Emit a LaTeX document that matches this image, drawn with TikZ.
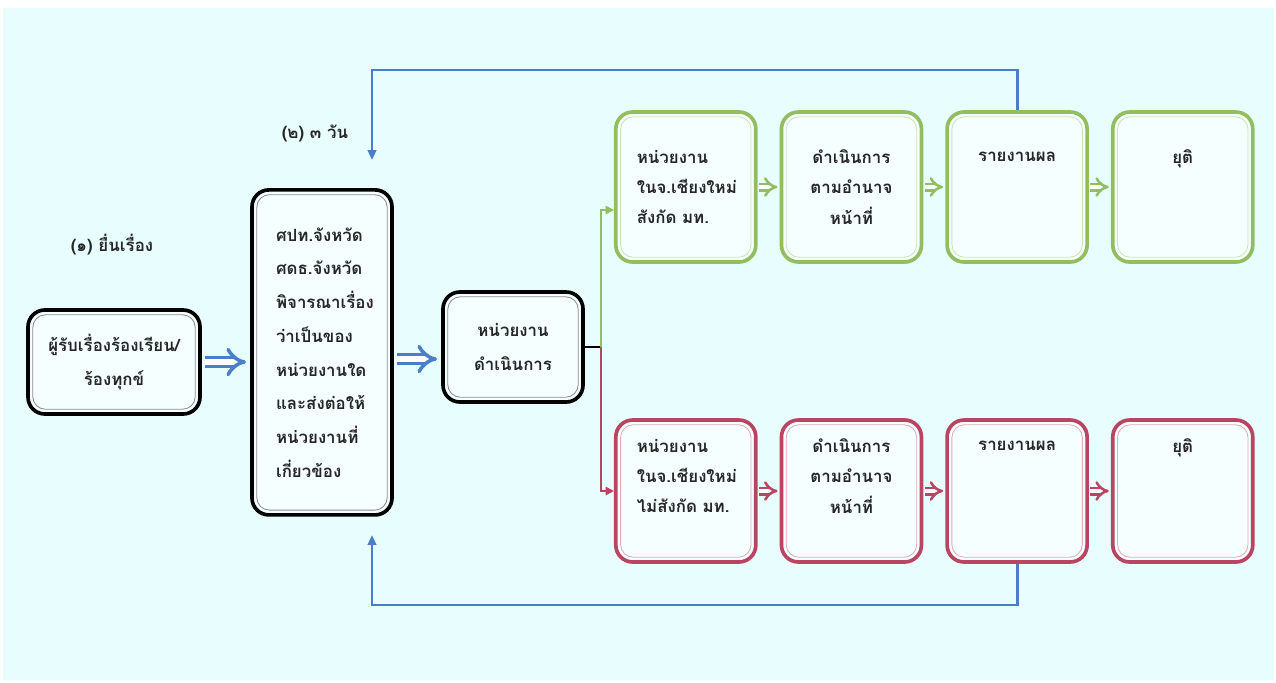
\documentclass[tikz,border=0pt]{standalone}
\usepackage{fontspec}
\newfontfamily\thaifont[Script=Thai]{Loma}
\usetikzlibrary{positioning,arrows.meta}

\definecolor{bgcyan}{RGB}{232,254,254}
\definecolor{arrowblue}{RGB}{74,126,200}
\definecolor{rowgreen}{RGB}{146,190,96}
\definecolor{rowred}{RGB}{184,70,98}

\tikzset{
  framebox/.style={
    rounded corners=12pt,
    draw=#1,
    line width=2.6pt,
    fill=white!55!bgcyan,
    text=black!85,
    font=\thaifont\bfseries\fontsize{12}{24}\selectfont,
    align=center,
    path picture={
      \draw[#1!45, line width=0.6pt, rounded corners=9pt]
        ([shift={(3.4pt,3.4pt)}]path picture bounding box.south west) rectangle
        ([shift={(-3.4pt,-3.4pt)}]path picture bounding box.north east);
    }
  },
  rowbox/.style={minimum width=3.5cm, text width=2.6cm,
    font=\thaifont\bfseries\fontsize{12}{21.5}\selectfont},
  labeltext/.style={text=black!85, font=\thaifont\bfseries\fontsize{12}{16}\selectfont},
  hollow/.style={draw=#1, line width=2.5pt, double=white, double distance=4.2pt,
    -{Implies[scale=1.3]}, shorten <=2pt, shorten >=3pt},
  thinhollow/.style={draw=#1, line width=1.8pt, double=white, double distance=2.8pt,
    -{Implies[scale=1.15]}, shorten <=1pt, shorten >=1.5pt},
  branch/.style={draw=#1, line width=1.3pt, -{Triangle[length=6pt,width=6pt]}},
  loopline/.style={draw=arrowblue, line width=2pt, -{Triangle[length=7pt,width=6pt]}}
}

\begin{document}
\begin{tikzpicture}
  \useasboundingbox (0,0) rectangle (31.9,-17.05);
  \fill[bgcyan] (0.075,-0.2) rectangle (31.85,-17.0);

  % receiving side
  \node[labeltext] (step1) at (2.8,-6.125) {(๑) ยื่นเรื่อง};
  \node[framebox=black, minimum width=4.3cm, minimum height=2.6cm] (src) at (2.85,-9.05)
    {ผู้รับเรื่องร้องเรียน/\\ร้องทุกข์};
  \node[labeltext] (step2) at (7.875,-3.325) {(๒) ๓ วัน};
  \node[framebox=black, minimum width=3.5cm, minimum height=8.125cm, text width=2.3cm, align=left] (center) at (8.05,-8.81)
    {ศปท.จังหวัด\\ศดธ.จังหวัด\\พิจารณาเรื่อง\\ว่าเป็นของ\\หน่วยงานใด\\และส่งต่อให้\\หน่วยงานที่\\เกี่ยวข้อง};
  \node[framebox=black, minimum width=3.5cm, minimum height=2.75cm] (unit) at (12.825,-8.675)
    {หน่วยงาน\\ดำเนินการ};

  \draw[hollow=arrowblue] (src.east) -- (src.east -| center.west);
  \draw[hollow=arrowblue] ([yshift=-0.3cm]unit.west -| center.east) -- ([yshift=-0.3cm]unit.west);

  % the two rows
  \foreach \r/\col/\y/\h/\last/\pad in {g/rowgreen/-4.675/3.75cm/{สังกัด มท.}/{},
                                        r/rowred/-12.275/3.55cm/{ไม่สังกัด มท.}/{\\~}}{
    \node[framebox=\col, rowbox, minimum height=\h, text width=2.45cm, align=left] (\r1) at (17.145,\y)
      {หน่วยงาน\\ในจ.เชียงใหม่\\\last\pad};
    \node[framebox=\col, rowbox, minimum height=\h, right=0.55cm of \r1] (\r2) {ดำเนินการ\\ตามอำนาจ\\หน้าที่\pad};
    \node[framebox=\col, rowbox, minimum height=\h, right=0.55cm of \r2] (\r3) {รายงานผล\\~\\~\pad};
    \node[framebox=\col, rowbox, minimum height=\h, right=0.55cm of \r3] (\r4) {ยุติ\\~\\~\pad};
    \foreach \a/\b in {1/2,2/3,3/4}
      \draw[thinhollow=\col] (\r\a) -- (\r\b);
  }

  % split after the unit box
  \coordinate (split) at ([xshift=0.4cm]unit.east);
  \draw[line width=2pt] (unit.east) -- (split);
  \draw[branch=rowgreen] (split) |- ([yshift=-0.575cm]g1.west);
  \draw[branch=rowred] (split) |- (r1.west);

  % report back loops
  \coordinate (topturn) at (9.3,-1.75);
  \coordinate (topin) at (9.3,-4.0);
  \coordinate (botturn) at (9.3,-15.125);
  \coordinate (botin) at (9.3,-13.375);
  \draw[loopline] (g3.north) |- (topturn) -- (topin);
  \draw[loopline] (r3.south) |- (botturn) -- (botin);
\end{tikzpicture}
\end{document}
